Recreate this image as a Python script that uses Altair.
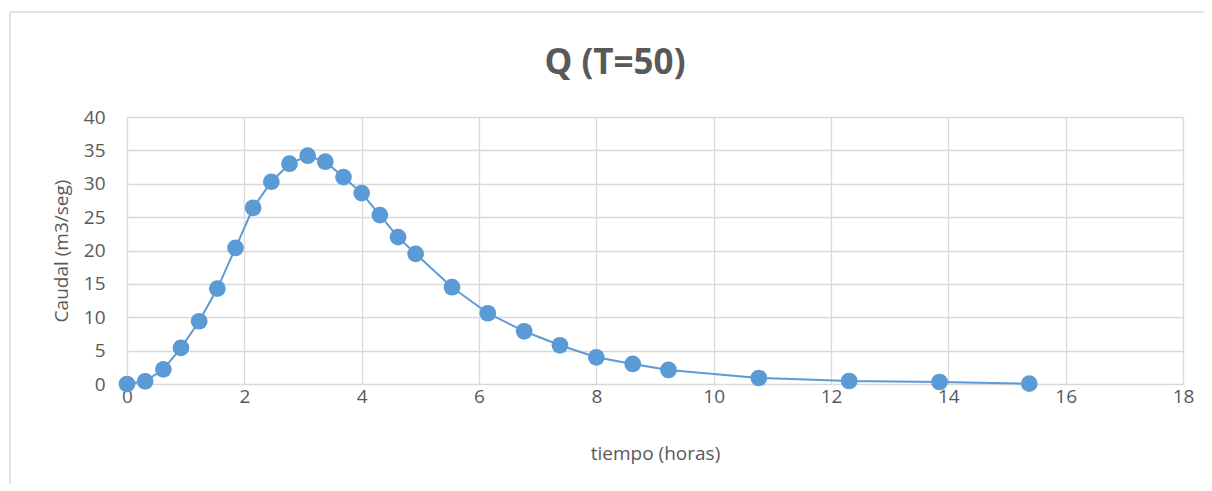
import altair as alt
import pandas as pd

tiempo = [0.0, 0.31, 0.62, 0.92, 1.23, 1.54, 1.85, 2.15, 2.46, 2.77, 3.08, 3.38,
          3.69, 4.0, 4.31, 4.62, 4.92, 5.54, 6.15, 6.77, 7.38, 8.0, 8.62, 9.23,
          10.77, 12.31, 13.85, 15.38]
caudal = [0.0, 0.4, 2.2, 5.4, 9.4, 14.3, 20.4, 26.4, 30.3, 33.0, 34.2, 33.3,
          31.0, 28.6, 25.3, 22.0, 19.5, 14.5, 10.6, 7.9, 5.8, 4.0, 3.0, 2.1,
          0.9, 0.45, 0.3, 0.05]
titulo = ["Q (T=50)"]

df = pd.DataFrame({"tiempo": tiempo, "caudal": caudal})
df_title = pd.DataFrame({"t": titulo})

FONT = "Open Sans"
GRAY = "#595959"
BLUE = "#5B9BD5"
FRAME = "#d9d9d9"

x = alt.X("tiempo:Q", title="tiempo (horas)",
          scale=alt.Scale(domain=[0, 18], nice=False),
          axis=alt.Axis(values=list(range(0, 19, 2)), grid=True, domain=False, ticks=False,
                        labelFlush=False, labelPadding=3, titlePadding=38))
y = alt.Y("caudal:Q", title="Caudal (m3/seg)",
          scale=alt.Scale(domain=[0, 40], nice=False),
          axis=alt.Axis(values=list(range(0, 41, 5)), grid=True, domain=False, ticks=False,
                        labelFlush=False, labelPadding=22, titlePadding=12))

frame_top = alt.Chart(df_title).mark_rule(color=FRAME, strokeWidth=1.5).encode(
    x=alt.value(-117), x2=alt.value(1100), y=alt.value(-105)
)
frame_left = alt.Chart(df_title).mark_rule(color=FRAME, strokeWidth=1.5).encode(
    x=alt.value(-117), y=alt.value(-105), y2=alt.value(400)
)

title = alt.Chart(df_title).mark_text(
    font=FONT, fontSize=35, fontWeight="bold", color=GRAY, align="center", baseline="middle"
).encode(text="t:N", x=alt.value(488), y=alt.value(-54))

line = alt.Chart(df).mark_line(color=BLUE, strokeWidth=2).encode(x=x, y=y)
points = alt.Chart(df).mark_point(filled=True, color=BLUE, size=280, opacity=1).encode(x=x, y=y)

chart = alt.layer(frame_top, frame_left, title, line, points).properties(
    width=1056, height=267,
    autosize=alt.AutoSizeParams(type="none"),
    padding={"left": 119, "top": 109, "right": 21, "bottom": 100},
).configure_view(stroke=None).configure_axis(
    gridColor="#d9d9d9", gridWidth=1.3, labelFont=FONT, labelFontSize=19, labelColor=GRAY,
    titleFont=FONT, titleFontSize=19, titleColor=GRAY, titleFontWeight="normal"
)

chart.save("out.html", embed_options={"renderer": "svg", "actions": False})
